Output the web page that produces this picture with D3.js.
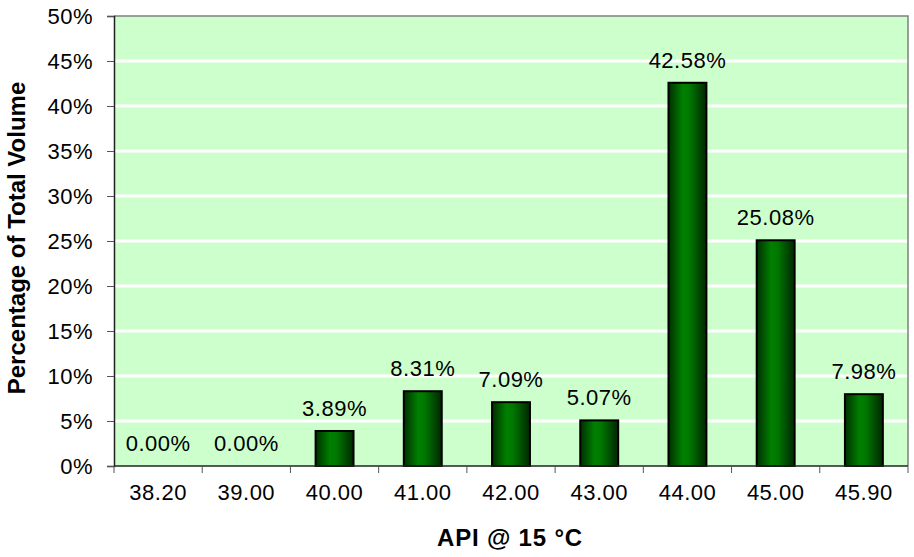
<!DOCTYPE html>
<html>
<head>
<meta charset="utf-8">
<script src="https://cdn.jsdelivr.net/npm/d3@7"></script>
<style>
  html, body { margin: 0; padding: 0; background: #fff; }
  svg { display: block; font-family: "Liberation Sans", Arial, sans-serif; }
</style>
</head>
<body>
<svg id="chart" width="914" height="557"></svg>
<script>
const categories = ["38.20", "39.00", "40.00", "41.00", "42.00", "43.00", "44.00", "45.00", "45.90"];
const values = [0.00, 0.00, 3.89, 8.31, 7.09, 5.07, 42.58, 25.08, 7.98];
const yTicks = [0, 5, 10, 15, 20, 25, 30, 35, 40, 45, 50];
const xTitle = "API @ 15 °C";
const yTitle = "Percentage of Total Volume";

const svg = d3.select("#chart");
const m = { left: 114, right: 908, top: 16, bottom: 466 };

const x = d3.scaleBand().domain(categories).range([m.left, m.right])
  .paddingInner(0.57).paddingOuter(0.285);
const y = d3.scaleLinear().domain([0, 50]).range([m.bottom, m.top]);

const defs = svg.append("defs");
const grad = defs.append("linearGradient").attr("id", "barGrad")
  .attr("x1", "0").attr("x2", "1").attr("y1", "0").attr("y2", "0");
[[0, "#002e00"], [0.38, "#008000"], [0.55, "#007800"], [1, "#002600"]].forEach(([o, c]) =>
  grad.append("stop").attr("offset", o).attr("stop-color", c));

// plot background
svg.append("rect").attr("x", m.left).attr("y", m.top)
  .attr("width", m.right - m.left).attr("height", m.bottom - m.top)
  .attr("fill", "#CCFFCC");

// gridlines
svg.append("g").selectAll("line").data(yTicks.filter(t => t > 0 && t < 50)).join("line")
  .attr("x1", m.left).attr("x2", m.right)
  .attr("y1", d => y(d)).attr("y2", d => y(d))
  .attr("stroke", "#fff").attr("stroke-width", 3);

// border top/right
svg.append("path")
  .attr("d", `M${m.left},${m.top}H${m.right}V${m.bottom}`)
  .attr("fill", "none").attr("stroke", "#808080").attr("stroke-width", 1.5);

// bars
svg.append("g").selectAll("rect").data(categories.map((c, i) => ({ c, v: values[i] })))
  .join("rect")
  .attr("x", d => x(d.c))
  .attr("y", d => y(d.v))
  .attr("width", x.bandwidth())
  .attr("height", d => y(0) - y(d.v))
  .attr("fill", "url(#barGrad)")
  .attr("stroke", "#000").attr("stroke-width", 2)
  .attr("display", d => d.v > 0 ? null : "none");

// data labels
svg.append("g").selectAll("text").data(categories.map((c, i) => ({ c, v: values[i] })))
  .join("text")
  .attr("x", d => x(d.c) + x.bandwidth() / 2)
  .attr("y", d => y(d.v) - 15)
  .attr("text-anchor", "middle")
  .attr("font-size", 22).attr("letter-spacing", "0.5px")
  .attr("fill", "#000")
  .text(d => d.v.toFixed(2) + "%");

// y axis
const yAxis = d3.axisLeft(y).tickValues(yTicks).tickFormat(d => d + "%").tickSize(7).tickPadding(14);
const gy = svg.append("g").attr("transform", `translate(${m.left},0)`).call(yAxis);
gy.select(".domain").attr("stroke", "#222").attr("stroke-width", 1.5);
gy.selectAll(".tick line").attr("stroke", "#555");
gy.selectAll(".tick text").attr("font-size", 22).attr("font-family", "Liberation Sans, Arial, sans-serif")
  .attr("letter-spacing", "0.5px").attr("fill", "#000").attr("dy", "0.36em");

// x axis: boundary ticks
const step = x.step();
const bounds = categories.map(c => x(c) - (step - x.bandwidth()) / 2).concat([m.right]);
svg.append("line").attr("x1", m.left).attr("x2", m.right)
  .attr("y1", m.bottom).attr("y2", m.bottom)
  .attr("stroke", "#222").attr("stroke-width", 1.5);
svg.append("g").selectAll("line").data(bounds).join("line")
  .attr("x1", d => d).attr("x2", d => d)
  .attr("y1", m.bottom).attr("y2", m.bottom + 7)
  .attr("stroke", "#555");
svg.append("g").selectAll("text").data(categories).join("text")
  .attr("x", d => x(d) + x.bandwidth() / 2)
  .attr("y", 500)
  .attr("text-anchor", "middle")
  .attr("font-size", 22).attr("letter-spacing", "0.5px")
  .text(d => d);

// axis titles
svg.append("text").attr("x", 510).attr("y", 546)
  .attr("text-anchor", "middle").attr("font-size", 24).attr("font-weight", "bold")
  .attr("letter-spacing", "0.8px")
  .text(xTitle);
svg.append("text")
  .attr("transform", "translate(25,238) rotate(-90)")
  .attr("text-anchor", "middle").attr("font-size", 24).attr("font-weight", "bold")
  .text(yTitle);
</script>
</body>
</html>
